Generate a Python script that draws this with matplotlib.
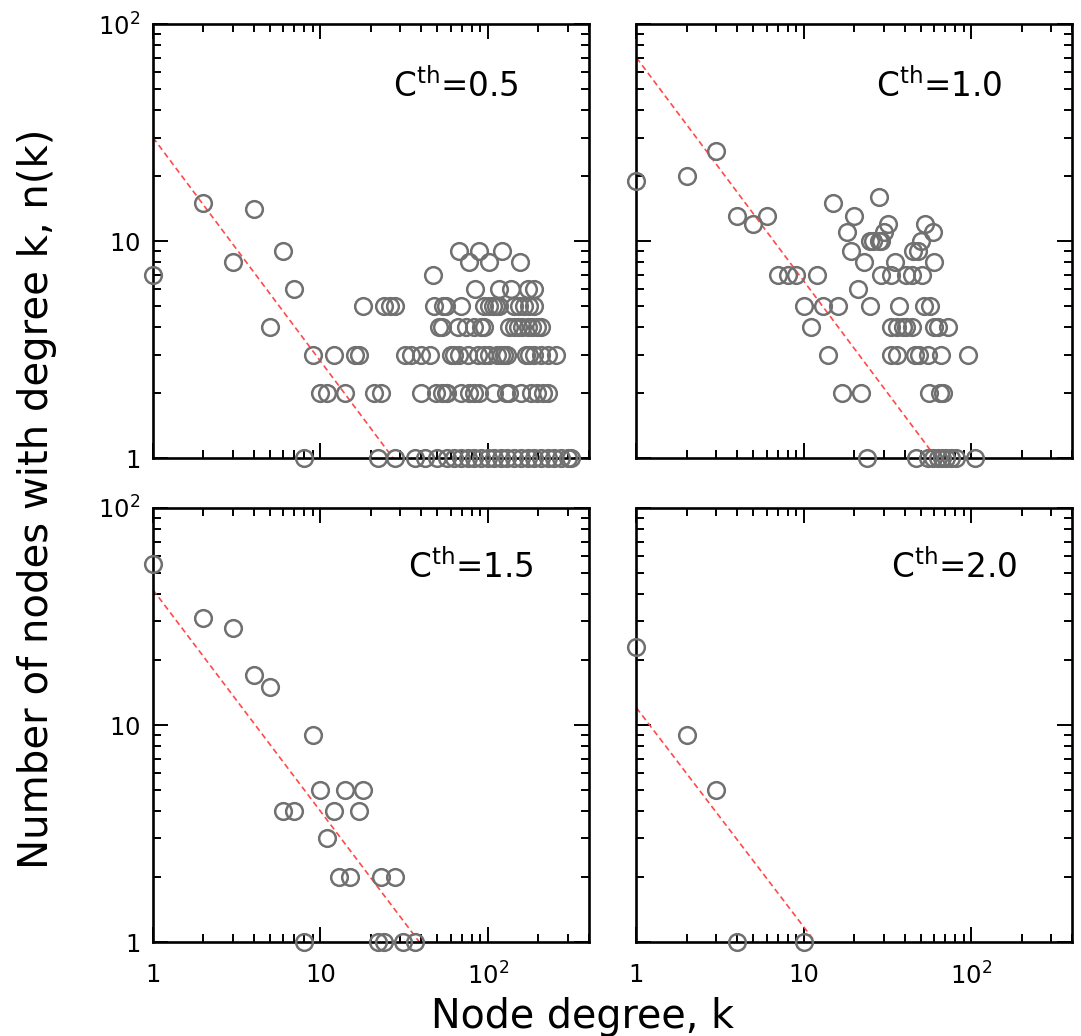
import numpy as np
import matplotlib
matplotlib.use('Agg')
from matplotlib import pyplot as plt
from matplotlib.ticker import NullFormatter

# panel labels (threshold C^th)
thresholds = ['0.5', '1.0', '1.5', '2.0']

# C^th = 0.5
k_05 = [2, 4,
        6, 67, 89, 121,
        3, 77, 102, 156,
        1, 47,
        7, 84, 117, 137, 173, 189,
        18, 24, 26, 28, 48, 54, 56, 69, 95, 102, 107, 112, 117, 144, 154, 165, 177, 189,
        5, 51, 53, 66, 74, 83, 91, 95, 134, 144, 151, 161, 173, 185, 198, 208,
        9, 12, 16, 17, 32, 35, 40, 45, 60, 63, 67, 76, 87, 95, 102, 114, 120, 125, 131,
        169, 177, 189, 208, 228, 255,
        10, 11, 14, 21, 23, 40, 49, 53, 56, 57, 69, 77, 83, 89, 109, 128, 134, 158, 181,
        198, 213, 228,
        8, 22, 28, 37, 42, 50, 57, 63, 69, 76, 83, 91, 100, 109, 120, 131, 144, 158, 173,
        189, 208, 228, 250, 273, 300, 314]
n_05 = ([15, 14] + [9] * 4 + [8] * 4 + [7] * 2 + [6] * 6 + [5] * 18 + [4] * 16
        + [3] * 25 + [2] * 22 + [1] * 26)

# C^th = 1.0
k_10 = [3, 2, 1, 28, 15,
        4, 6, 20,
        5, 32, 53,
        18, 30, 59,
        25, 26, 28, 29, 50,
        19, 45, 48,
        23, 35, 60,
        7, 8, 9, 12, 29, 33, 41, 44, 51,
        21,
        10, 13, 16, 25, 37, 52, 57,
        11, 33, 36, 39, 41, 44, 60, 63, 73,
        14, 33, 36, 46, 49, 55, 66, 96,
        17, 22, 56, 65, 68,
        24, 47, 55, 59, 63, 67, 71, 76, 81, 106]
n_10 = ([26, 20, 19, 16, 15] + [13] * 3 + [12] * 3 + [11] * 3 + [10] * 5 + [9] * 3
        + [8] * 3 + [7] * 9 + [6] + [5] * 7 + [4] * 9 + [3] * 8 + [2] * 5 + [1] * 10)

# C^th = 1.5
k_15 = [1, 2, 3, 4, 5, 6, 7, 8, 9, 10, 11, 12, 13, 14, 15, 17, 18, 22, 23, 24, 28, 31, 37]
n_15 = [55, 31, 28, 17, 15, 4, 4, 1, 9, 5, 3, 4, 2, 5, 2, 4, 5, 1, 2, 1, 2, 1, 1]

# C^th = 2.0
k_20 = [1, 2, 3, 4, 10]
n_20 = [23, 9, 5, 1, 1]

# power-law fits n(k) = A * k^-gamma
fit_amp = [30, 70, 42, 12]
fit_gamma = [1.03, 1.03, 1.02, 1.01]

tick_vals = [1, 10, 100]
xtick_labels = ['1', '10', '10$^2$']
# trailing space keeps "1" and "10" lined up with the "10" of 10^2
ytick_labels = ['1$\\ \\,$', '10$\\ \\,$', '10$^2$']

panels = [(k_05, n_05), (k_10, n_10), (k_15, n_15), (k_20, n_20)]
label_x = [0.84, 0.84, 0.875, 0.875]
label_y = [0.856, 0.856, 0.863, 0.863]

fig, axes = plt.subplots(2, 2, figsize=(10.81, 10.36), dpi=100, sharex=True, sharey=True)
fig.subplots_adjust(left=0.1415, right=0.9917, bottom=0.0907, top=0.9768,
                    wspace=0.11, hspace=0.115)

for i, ax in enumerate(axes.flat):
    k, n = panels[i]
    ax.plot(k, n, 'o', ls='none', mfc='none', mec='#707070', ms=12, mew=1.8,
            clip_on=False, zorder=3)

    kk = np.array([1.0, fit_amp[i] ** (1.0 / fit_gamma[i])])
    ax.plot(kk, fit_amp[i] * kk ** (-fit_gamma[i]), ls=(0, (3.5, 2.2)),
            color='#ff4a4a', lw=1.2, zorder=2)

    ax.set_xscale('log')
    ax.set_yscale('log')
    ax.set_xlim(1, 400)
    ax.set_ylim(1, 100)

    ax.text(label_x[i], label_y[i], 'C$^{\\mathrm{th}}$=' + thresholds[i],
            transform=ax.transAxes, ha='right', va='center', fontsize=23.5)

    for s in ax.spines.values():
        s.set_linewidth(1.9)
    ax.tick_params(which='both', direction='in', top=True, right=True,
                   width=1.4, labelsize=17.5)
    ax.tick_params(axis='x', pad=15)
    ax.tick_params(axis='y', pad=9)
    ax.tick_params(which='major', length=11)
    ax.tick_params(which='minor', length=5.5)

ax0 = axes[1, 0]
ax0.set_xticks(tick_vals)
ax0.set_xticklabels(xtick_labels)
ax0.set_yticks(tick_vals)
ax0.set_yticklabels(ytick_labels)
ax0.xaxis.set_minor_formatter(NullFormatter())
ax0.yaxis.set_minor_formatter(NullFormatter())

fig.text(0.539, 0.018, 'Node degree, k', ha='center', va='center', fontsize=28.5)
fig.text(0.034, 0.519, 'Number of nodes with degree k, n(k)', ha='center', va='center',
         rotation=90, fontsize=29)

fig.savefig('out.png', dpi=100)
